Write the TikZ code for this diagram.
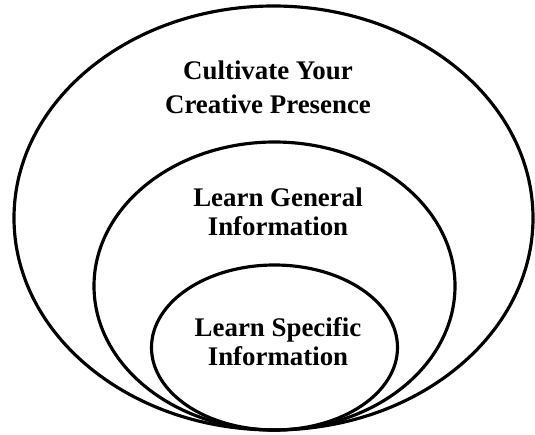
\documentclass[tikz,border=0pt]{standalone}
\usepackage{fontspec}
\setmainfont{Liberation Serif}
\usepackage{tikz}
\usetikzlibrary{calc}

\begin{document}
\begin{tikzpicture}[ring/.style={line width=1.8pt, black},
        txt/.style={draw=none, color=black, align=center, inner sep=0pt, font=\fontsize{15.3}{16.7}\selectfont\bfseries}]
        \useasboundingbox (0,0) rectangle (10.7,8.68);
        % coordinates
        \coordinate (c1) at (5.47,4.32);
        \coordinate (c2) at (5.49,2.96);
        \coordinate (c3) at (5.49,1.73);

        % ellipses
        \draw[ring] (c1) ellipse (5.19 and 4.24);
        \draw[ring] (c2) ellipse (3.61 and 2.88);
        \draw[ring] (c3) ellipse (2.46 and 1.65);

        % Text
        \node[txt, font=\fontsize{15.3}{19.3}\selectfont\bfseries] (presence) at (5.36,6.94) {Cultivate Your\\Creative Presence};
        \node[txt] (general) at (5.56,4.45) {Learn General\\Information};
        \node[txt] (specific) at (5.56,1.85) {Learn Specific\\Information};

\end{tikzpicture}
\end{document}
